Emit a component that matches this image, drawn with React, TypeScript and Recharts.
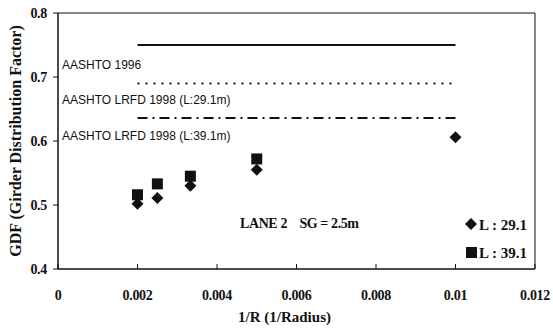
import { ComposedChart, Line, Scatter, XAxis, YAxis, ReferenceArea } from "recharts";

// x values are 1/R (1/m), y values are GDF
const aashto1996 = [
  { x: 0.002, y: 0.75 },
  { x: 0.01, y: 0.75 },
];
const lrfd291 = [
  { x: 0.002, y: 0.69 },
  { x: 0.01, y: 0.69 },
];
const lrfd391 = [
  { x: 0.002, y: 0.636 },
  { x: 0.01, y: 0.636 },
];
const span291 = [
  { x: 0.002, y: 0.502 },
  { x: 0.0025, y: 0.511 },
  { x: 0.00333, y: 0.53 },
  { x: 0.005, y: 0.555 },
  { x: 0.01, y: 0.606 },
];
const span391 = [
  { x: 0.002, y: 0.516 },
  { x: 0.0025, y: 0.533 },
  { x: 0.00333, y: 0.545 },
  { x: 0.005, y: 0.572 },
];
const xTicks = [0, 0.002, 0.004, 0.006, 0.008, 0.01, 0.012];
const yTicks = [0.4, 0.5, 0.6, 0.7, 0.8];

const INK = "#111";
const serif = "'Liberation Serif', 'Times New Roman', serif";
const sans = "'Liberation Sans', Arial, sans-serif";

const tickFont = { fontFamily: serif, fontWeight: 700, fontSize: 14, fill: INK, letterSpacing: -0.3 };

const fmtX = (v: number) => (v === 0 ? "0" : String(Number(v.toFixed(3))));

// custom tick renderers so the font is applied for sure
const XTick = (props: any) => {
  const { x, y, payload } = props;
  return (
    <text x={x} y={y} textAnchor="middle" dominantBaseline="central" style={tickFont}>
      {fmtX(payload.value)}
    </text>
  );
};

const YTick = (props: any) => {
  const { x, y, payload } = props;
  return (
    <text x={x} y={y} textAnchor="end" dominantBaseline="central" style={tickFont}>
      {Number(payload.value).toFixed(1)}
    </text>
  );
};

const Diamond = (props: any) => {
  const { cx, cy } = props;
  return <path d={`M${cx},${cy - 6}L${cx + 6},${cy}L${cx},${cy + 6}L${cx - 6},${cy}Z`} fill={INK} />;
};

const Square = (props: any) => {
  const { cx, cy } = props;
  return <rect x={cx - 5.5} y={cy - 5.5} width={11} height={11} fill={INK} />;
};

export default function App() {
  return (
    <div style={{ position: "absolute", left: 0, top: 0, background: "#fff" }}>
      <ComposedChart width={553} height={330} margin={{ top: 13, right: 18, bottom: 16, left: 8 }}>
        <XAxis
          dataKey="x"
          type="number"
          domain={[0, 0.012]}
          ticks={xTicks}
          height={45}
          stroke={INK}
          tickSize={-5}
          tickMargin={31}
          tick={XTick}
          label={{
            content: ({ viewBox }: any) => (
              <text
                x={viewBox.x + viewBox.width / 2 - 12}
                y={317}
                textAnchor="middle"
                dominantBaseline="central"
                style={{ fontFamily: serif, fontWeight: 700, fontSize: 15, fill: INK }}
              >
                1/R (1/Radius)
              </text>
            ),
          }}
        />
        <YAxis
          dataKey="y"
          type="number"
          domain={[0.4, 0.8]}
          ticks={yTicks}
          width={50}
          stroke={INK}
          tickSize={5}
          tickMargin={6}
          tick={YTick}
          label={{
            content: ({ viewBox }: any) => (
              <text
                x={15}
                y={viewBox.y + viewBox.height / 2}
                transform={`rotate(-90, 15, ${viewBox.y + viewBox.height / 2})`}
                textAnchor="middle"
                dominantBaseline="central"
                style={{ fontFamily: serif, fontWeight: 700, fontSize: 16, fill: INK }}
              >
                GDF (Girder Distribution Factor)
              </text>
            ),
          }}
        />
        <ReferenceArea x1={0} x2={0.012} y1={0.4} y2={0.8} fill="none" stroke={INK} strokeWidth={1} />
        <Line data={aashto1996} dataKey="y" stroke={INK} strokeWidth={2} dot={false} isAnimationActive={false} />
        <Line data={lrfd291} dataKey="y" stroke={INK} strokeWidth={2} strokeDasharray="2 6" dot={false} isAnimationActive={false} />
        <Line data={lrfd391} dataKey="y" stroke={INK} strokeWidth={2} strokeDasharray="10 5 2 5" dot={false} isAnimationActive={false} />
        <Scatter data={span291} dataKey="y" shape={Diamond} isAnimationActive={false} />
        <Scatter data={span391} dataKey="y" shape={Square} isAnimationActive={false} />

        <g style={{ fontFamily: sans, fontSize: 12, fill: INK }}>
          <text x={62} y={65} dominantBaseline="central">AASHTO 1996</text>
          <text x={62} y={100} dominantBaseline="central">AASHTO LRFD 1998 (L:29.1m)</text>
          <text x={62} y={136} dominantBaseline="central">AASHTO LRFD 1998 (L:39.1m)</text>
        </g>
        <g style={{ fontFamily: serif, fontWeight: 700, fill: INK }}>
          <text x={240} y={223} dominantBaseline="central" style={{ whiteSpace: "pre", fontSize: 14, letterSpacing: -0.4 }}>
            {"LANE 2    SG = 2.5m"}
          </text>
          <path d="M471,218L477,224L471,230L465,224Z" fill={INK} />
          <text x={479} y={225} dominantBaseline="central" style={{ fontSize: 15 }}>L : 29.1</text>
          <rect x={466} y={247} width={11} height={11} fill={INK} />
          <text x={479} y={253} dominantBaseline="central" style={{ fontSize: 15 }}>L : 39.1</text>
        </g>
      </ComposedChart>
    </div>
  );
}
